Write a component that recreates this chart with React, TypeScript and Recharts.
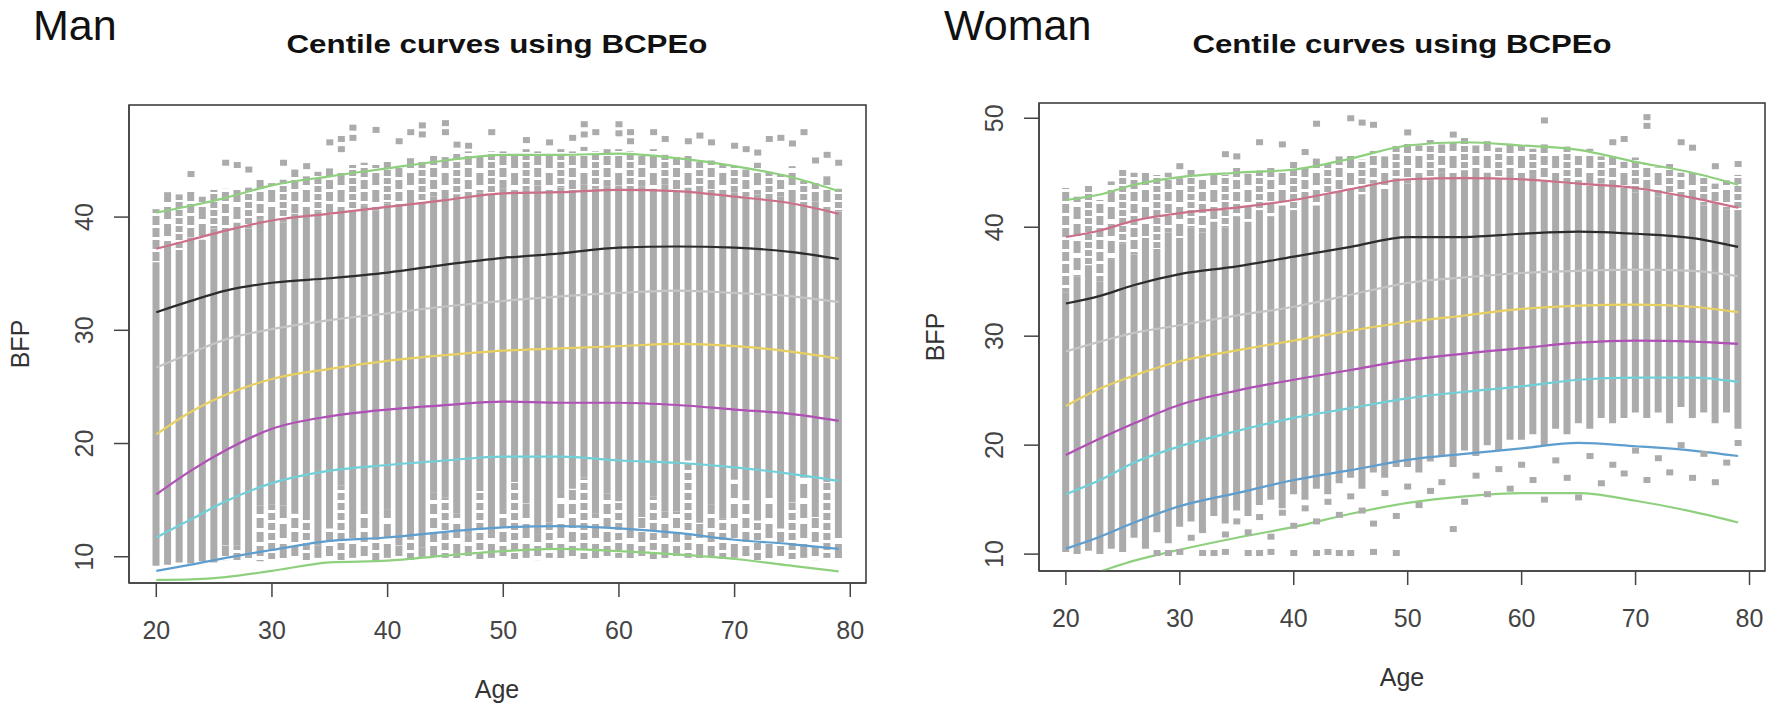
import React from 'react';
import {
    ComposedChart,
    Bar,
    Cell,
    Line,
    Scatter,
    XAxis,
    YAxis,
    ReferenceArea
} from 'recharts';

// ages observed (one grey column per year)
const AGES = [
    20, 21, 22, 23, 24, 25, 26, 27, 28, 29,
    30, 31, 32, 33, 34, 35, 36, 37, 38, 39,
    40, 41, 42, 43, 44, 45, 46, 47, 48, 49,
    50, 51, 52, 53, 54, 55, 56, 57, 58, 59,
    60, 61, 62, 63, 64, 65, 66, 67, 68, 69,
    70, 71, 72, 73, 74, 75, 76, 77, 78, 79
];

// Man: each column = sparse bottom part (lo..low2), dense part (low2..mid), sparse top part (mid..hi)
const MAN_LO = [
    9.2, 9.3, 9.5, 9.4, 9.6, 9.5, 9.7, 9.6, 9.7, 9.6,
    9.8, 9.7, 9.8, 9.7, 9.9, 9.8, 9.7, 9.9, 9.8, 9.7,
    9.9, 9.8, 9.7, 9.9, 9.8, 9.9, 9.7, 9.9, 9.8, 9.9,
    9.9, 9.8, 9.9, 9.7, 9.9, 9.8, 9.9, 9.8, 9.7, 9.8,
    9.9, 9.8, 9.9, 9.8, 9.7, 9.8, 9.9, 9.7, 9.9, 9.8,
    9.9, 9.8, 9.7, 9.8, 9.9, 9.8, 9.9, 9.7, 9.9, 9.8
];
const MAN_LOW2 = [
    9.2, 9.3, 9.5, 9.4, 9.6, 9.5, 11.0, 11.0, 10.2, 14.5,
    14.6, 14.5, 13.8, 13.6, 11.0, 12.5, 16.3, 12.0, 14.3, 11.5,
    14.2, 11.0, 11.5, 10.8, 15.7, 15.2, 13.8, 12.0, 15.8, 12.0,
    14.3, 16.6, 14.7, 12.0, 13.0, 15.8, 16.0, 17.0, 13.8, 15.6,
    14.9, 12.8, 13.5, 15.3, 14.0, 14.0, 18.5, 13.0, 14.6, 13.4,
    16.8, 15.0, 13.2, 15.8, 12.5, 14.8, 17.0, 13.5, 16.6, 12.8
];
const MAN_MID = [
    36.0, 37.5, 37.0, 38.2, 38.0, 39.0, 38.6, 39.5, 39.0, 39.8,
    40.0, 39.5, 40.3, 40.0, 40.5, 40.2, 40.8, 40.5, 41.0, 40.6,
    41.2, 41.0, 41.5, 41.2, 41.8, 41.5, 42.0, 41.8, 42.2, 42.0,
    42.5, 42.2, 42.4, 42.8, 42.3, 42.6, 42.4, 42.9, 42.5, 42.7,
    42.8, 42.4, 42.7, 42.5, 42.9, 42.3, 42.6, 42.2, 42.4, 42.0,
    42.2, 41.8, 42.0, 41.5, 41.8, 41.3, 41.0, 41.4, 40.8, 40.5
];
const MAN_HI = [
    40.7, 42.2, 42.0, 42.3, 41.8, 42.4, 42.5, 42.8, 42.6, 43.5,
    43.0, 43.3, 44.2, 43.6, 44.0, 44.3, 44.2, 44.6, 44.8, 44.6,
    45.0, 44.6, 45.2, 45.0, 45.5, 45.3, 45.6, 45.8, 45.5, 45.8,
    45.8, 45.6, 46.0, 45.8, 45.5, 46.0, 45.8, 46.2, 45.8, 46.0,
    46.0, 45.8, 45.6, 46.0, 45.5, 45.3, 45.5, 45.0, 45.0, 44.6,
    44.5, 44.2, 44.8, 44.0, 43.8, 44.5, 43.2, 43.0, 43.6, 42.5
];
// Man: isolated high observations
const MAN_OUT_AGE = [
    23, 26, 27, 28, 31, 33, 35, 36, 36, 37, 37, 39, 41, 42, 43, 43, 45, 45, 46, 47,
    49, 52, 54, 56, 57, 57, 58, 60, 60, 61, 61, 63, 64, 66, 67, 68, 70, 71, 72, 73,
    74, 75, 76, 77, 78, 79
];
const MAN_OUT_BFP = [
    43.8, 44.8, 44.6, 44.2, 44.8, 44.5, 46.6, 46.0, 46.9, 47.0, 47.9, 47.7, 46.7, 47.5, 47.3, 48.1, 47.5, 48.3, 46.4, 46.3,
    47.5, 46.8, 46.6, 47.0, 47.3, 48.2, 47.5, 47.4, 48.2, 46.7, 47.5, 47.5, 46.9, 46.7, 47.2, 46.6, 46.3, 46.0, 45.7, 46.9,
    47.0, 46.5, 47.5, 45.0, 45.5, 44.8
];

// Woman: dense part (lo..mid), sparse top part (mid..hi)
const WOMAN_LO = [
    10.2, 10.0, 10.3, 10.0, 10.5, 10.2, 11.5, 10.5, 12.0, 11.0,
    12.5, 13.0, 12.0, 13.5, 12.8, 14.0, 13.5, 14.5, 15.0, 14.2,
    15.5, 15.0, 16.0, 15.5, 16.5, 17.0, 16.0, 17.5, 17.0, 18.0,
    18.0, 17.5, 18.5, 19.0, 18.0, 19.5, 19.0, 20.0, 19.5, 20.5,
    20.5, 21.0, 20.0, 21.5, 21.0, 22.0, 21.5, 22.5, 22.0, 22.5,
    23.0, 22.5, 23.0, 22.0, 23.5, 22.5, 23.0, 22.0, 23.0, 21.5
];
const WOMAN_MID = [
    34.0, 35.5, 36.5, 35.0, 37.0, 38.5, 37.5, 39.0, 38.0, 39.5,
    39.0, 40.0, 39.5, 40.5, 40.0, 41.0, 40.5, 41.5, 41.0, 42.0,
    41.5, 42.5, 42.0, 43.0, 42.5, 43.5, 43.0, 44.0, 43.5, 44.5,
    44.0, 44.8, 44.3, 45.0, 44.5, 45.2, 44.6, 45.0, 44.4, 44.8,
    44.5, 44.8, 44.2, 44.6, 44.0, 44.3, 43.8, 44.0, 43.5, 43.6,
    43.2, 43.4, 42.8, 43.0, 42.5, 42.6, 42.0, 42.2, 41.6, 41.5
];
const WOMAN_HI = [
    43.6, 42.8, 43.8, 42.5, 44.2, 45.3, 45.0, 45.2, 44.8, 45.0,
    44.5, 45.3, 44.6, 45.0, 44.8, 45.5, 44.9, 45.2, 45.5, 45.0,
    46.0, 45.5, 46.3, 45.8, 46.5, 46.8, 46.2, 47.0, 46.5, 47.5,
    47.8, 47.5, 48.0, 47.6, 47.8, 48.2, 47.5, 47.9, 47.3, 47.8,
    47.5, 47.2, 47.6, 47.0, 47.4, 46.8, 47.2, 46.5, 46.8, 46.0,
    46.4, 45.8, 45.5, 45.8, 45.0, 45.2, 44.8, 44.0, 44.3, 44.8
];
// Woman: isolated observations above and below the dense columns
const WOMAN_OUT_AGE = [
    30, 34, 35, 37, 39, 41, 42, 45, 46, 47, 50, 54, 62, 68, 69, 71, 71, 74, 75, 77, 79,
    28, 29, 30, 32, 33, 34, 36, 37, 38, 40, 42, 43, 44, 45, 47, 49,
    31, 32, 34, 35, 36, 37, 38, 39, 40, 41, 42, 43, 44, 45, 46, 47, 48, 49,
    50, 51, 52, 53, 54, 55, 56, 57, 58, 59, 60, 61, 62, 63, 64, 65, 66, 67,
    68, 69, 70, 71, 72, 73, 74, 75, 76, 77, 78, 79
];
const WOMAN_OUT_BFP = [
    45.6, 46.7, 46.5, 47.8, 47.6, 46.9, 49.5, 50.0, 49.6, 49.4, 48.7, 48.5, 49.8, 47.8, 48.1, 50.1, 49.3, 47.8, 47.3, 45.6, 45.8,
    10.1, 10.1, 10.2, 10.1, 10.1, 10.2, 10.1, 10.1, 10.2, 10.1, 10.1, 10.2, 10.1, 10.1, 10.2, 10.1,
    11.5, 12.2, 11.8, 13.0, 12.0, 13.4, 11.6, 13.8, 12.6, 14.2, 13.0, 14.8, 13.6, 15.3, 14.0, 12.8, 15.6, 13.5,
    16.2, 14.5, 15.8, 16.6, 12.3, 14.8, 17.2, 15.5, 17.8, 16.0, 18.2, 16.8, 15.0, 18.6, 17.0, 15.2, 19.0, 16.5,
    18.2, 17.4, 19.5, 16.8, 18.8, 17.5, 20.0, 17.0, 19.2, 16.6, 18.4, 20.2
];

// centile curves, read at these ages
const CURVE_AGES = [20, 23, 26, 30, 35, 40, 45, 50, 55, 60, 65, 70, 75, 79];

const MAN_C0_4 = [7.95, 8.0, 8.2, 8.75, 9.5, 9.65, 10.1, 10.5, 10.7, 10.5, 10.2, 9.8, 9.2, 8.7];
const MAN_C2 = [8.75, 9.3, 9.9, 10.6, 11.4, 11.7, 12.2, 12.6, 12.7, 12.5, 12.1, 11.5, 11.1, 10.7];
const MAN_C10 = [11.7, 13.3, 14.9, 16.5, 17.6, 18.1, 18.5, 18.85, 18.85, 18.5, 18.3, 17.9, 17.3, 16.7];
const MAN_C25 = [15.5, 17.6, 19.4, 21.3, 22.4, 23.0, 23.4, 23.7, 23.6, 23.6, 23.4, 23.0, 22.6, 22.0];
const MAN_C50 = [20.8, 22.8, 24.3, 25.7, 26.6, 27.3, 27.8, 28.2, 28.4, 28.6, 28.8, 28.6, 28.1, 27.5];
const MAN_C75 = [26.7, 28.0, 29.2, 30.1, 30.9, 31.5, 32.1, 32.6, 33.0, 33.3, 33.5, 33.3, 33.0, 32.5];
const MAN_C90 = [31.6, 32.6, 33.5, 34.2, 34.6, 35.1, 35.8, 36.4, 36.8, 37.3, 37.4, 37.3, 36.9, 36.3];
const MAN_C98 = [37.2, 38.0, 38.8, 39.7, 40.3, 40.9, 41.5, 42.1, 42.2, 42.4, 42.3, 41.8, 41.2, 40.3];
const MAN_C99_6 = [40.4, 41.0, 41.7, 42.8, 43.6, 44.3, 45.0, 45.5, 45.5, 45.6, 45.2, 44.5, 43.5, 42.3];

const WOMAN_C0_4 = [7.4, 8.4, 9.4, 10.4, 11.5, 12.5, 13.7, 14.7, 15.3, 15.6, 15.6, 14.9, 13.9, 12.9];
const WOMAN_C2 = [10.5, 11.6, 12.9, 14.4, 15.6, 16.8, 17.7, 18.65, 19.2, 19.7, 20.2, 19.9, 19.5, 19.0];
const WOMAN_C10 = [15.5, 16.8, 18.4, 19.9, 21.3, 22.5, 23.4, 24.3, 24.9, 25.4, 26.0, 26.2, 26.2, 25.8];
const WOMAN_C25 = [19.1, 20.6, 22.0, 23.7, 25.0, 26.0, 26.9, 27.8, 28.4, 28.9, 29.4, 29.6, 29.5, 29.3];
const WOMAN_C50 = [23.6, 25.2, 26.4, 27.7, 28.7, 29.6, 30.5, 31.3, 31.9, 32.5, 32.8, 32.9, 32.7, 32.2];
const WOMAN_C75 = [28.6, 29.5, 30.3, 31.0, 31.9, 32.7, 33.8, 34.9, 35.4, 35.8, 36.0, 36.1, 36.0, 35.5];
const WOMAN_C90 = [33.0, 33.7, 34.7, 35.7, 36.4, 37.3, 38.2, 39.1, 39.1, 39.4, 39.6, 39.4, 39.0, 38.2];
const WOMAN_C98 = [39.1, 39.7, 40.6, 41.3, 41.8, 42.5, 43.5, 44.4, 44.5, 44.4, 44.0, 43.6, 42.7, 41.8];
const WOMAN_C99_6 = [42.5, 43.0, 43.9, 44.6, 45.0, 45.3, 46.3, 47.5, 47.8, 47.5, 47.1, 46.0, 45.0, 43.9];

const CENTILE_COLORS = ['#8fd07f', '#5d9ecf', '#6fd0d8', '#b04fb5', '#e8d060', '#c4c4c4', '#2b2b2b', '#cc6f88', '#8fd07f'];
const X_TICKS = [20, 30, 40, 50, 60, 70, 80];
const MAN_Y_TICKS = [10, 20, 30, 40];
const WOMAN_Y_TICKS = [10, 20, 30, 40, 50];

const X_DOMAIN = [17.64, 81.36];
const FONT = '"Liberation Sans", Arial, sans-serif';
const POINT_GREY = '#ababab';

// dash textures (period, grey start, grey length) so sparse stretches look broken up
const DASH_UP = [[12, 0, 9], [17, 3, 12], [8, 2, 6]];
const DASH_LOW = [[14, 0, 10], [20, 4, 14], [10, 3, 7]];

interface PanelProps {
    left: number;
    width: number;
    margin: { top: number; right: number; bottom: number; left: number };
    yDomain: number[];
    yTicks: number[];
    lo: number[];
    low2: number[];
    mid: number[];
    hi: number[];
    outAge: number[];
    outBfp: number[];
    curves: number[][];
}

const AXIS_W = 60;
const AXIS_H = 60;
const BAR_W = 7;

function Square(props: any) {
    const { cx, cy } = props;
    return <rect x={cx - 3.5} y={cy - 3} width={7} height={6} fill={POINT_GREY} />;
}

function Panel({ left, width, margin, yDomain, yTicks, lo, low2, mid, hi, outAge, outBfp, curves }: PanelProps) {
    const rows = AGES.map((age, i) => ({ age, lo: lo[i], low2: low2[i], mid: mid[i], hi: hi[i] }));
    const points = outAge.map((age, i) => ({ age, v: outBfp[i] }));
    const curveRows = CURVE_AGES.map((age, i) => {
        const r: any = { age };
        curves.forEach((c, k) => { r['c' + k] = c[i]; });
        return r;
    });
    const plotLeft = margin.left + AXIS_W;
    const plotBottom = 716 - margin.bottom - AXIS_H;

    const yTick = (p: any) => {
        const bx = plotLeft - 36;
        return (
            <text x={bx} y={p.y} transform={`rotate(-90 ${bx} ${p.y})`} textAnchor="middle"
                fontSize={25} fontFamily={FONT} fill="#444">{p.payload.value}</text>
        );
    };
    const xTick = (p: any) => (
        <text x={p.x} y={plotBottom + 56} textAnchor="middle" fontSize={25} fontFamily={FONT} fill="#444">
            {p.payload.value}
        </text>
    );

    return (
        <div style={{ position: 'absolute', left, top: 0 }}>
            <ComposedChart width={width} height={716} data={rows} margin={margin} barGap={-BAR_W}>
                <XAxis dataKey="age" type="number" domain={X_DOMAIN} ticks={X_TICKS} allowDataOverflow
                    height={AXIS_H} tickSize={14} tick={xTick} interval={0}
                    axisLine={{ stroke: '#444', strokeWidth: 1.5 }} tickLine={{ stroke: '#444', strokeWidth: 1.5 }} />
                <YAxis type="number" domain={yDomain} ticks={yTicks} allowDataOverflow width={AXIS_W}
                    tickSize={15} tick={yTick} interval={0}
                    axisLine={{ stroke: '#444', strokeWidth: 1.5 }} tickLine={{ stroke: '#444', strokeWidth: 1.5 }} />
                <Bar dataKey={(d: any) => [d.lo, d.low2]} barSize={BAR_W} isAnimationActive={false}>
                    {rows.map((_, i) => <Cell key={i} fill={`url(#dashLow${(i * 2) % 3})`} />)}
                </Bar>
                <Bar dataKey={(d: any) => [d.low2, d.mid]} fill={POINT_GREY} barSize={BAR_W} isAnimationActive={false} />
                <Bar dataKey={(d: any) => [d.mid, d.hi]} barSize={BAR_W} isAnimationActive={false}>
                    {rows.map((_, i) => <Cell key={i} fill={`url(#dashUp${i % 3})`} />)}
                </Bar>
                <Scatter data={points} dataKey="v" shape={Square} isAnimationActive={false} />
                {curves.map((_, k) => (
                    <Line key={k} data={curveRows} dataKey={'c' + k} type="monotone" stroke={CENTILE_COLORS[k]}
                        strokeWidth={2.2} dot={false} isAnimationActive={false} />
                ))}
                <ReferenceArea x1={X_DOMAIN[0]} x2={X_DOMAIN[1]} y1={yDomain[0]} y2={yDomain[1]}
                    fill="none" fillOpacity={0} stroke="#333" strokeWidth={1.5} ifOverflow="visible" />
            </ComposedChart>
        </div>
    );
}

export default function App() {
    const manCurves = [MAN_C0_4, MAN_C2, MAN_C10, MAN_C25, MAN_C50, MAN_C75, MAN_C90, MAN_C98, MAN_C99_6];
    const womanCurves = [WOMAN_C0_4, WOMAN_C2, WOMAN_C10, WOMAN_C25, WOMAN_C50, WOMAN_C75, WOMAN_C90, WOMAN_C98, WOMAN_C99_6];
    return (
        <div style={{ position: 'absolute', left: 0, top: 0, width: 1772, height: 716, background: '#fff', overflow: 'hidden' }}>
            <svg width={0} height={0} style={{ position: 'absolute' }}>
                <defs>
                    {DASH_UP.map(([h, y0, len], i) => (
                        <pattern key={'u' + i} id={'dashUp' + i} width={1} height={h} patternUnits="userSpaceOnUse">
                            <rect y={y0} width={1} height={len} fill={POINT_GREY} />
                        </pattern>
                    ))}
                    {DASH_LOW.map(([h, y0, len], i) => (
                        <pattern key={'l' + i} id={'dashLow' + i} width={1} height={h} patternUnits="userSpaceOnUse">
                            <rect y={y0} width={1} height={len} fill={POINT_GREY} />
                        </pattern>
                    ))}
                </defs>
            </svg>
            <Panel left={0} width={900} margin={{ top: 105, right: 34, bottom: 73, left: 69 }}
                yDomain={[7.68, 49.9]} yTicks={MAN_Y_TICKS} lo={MAN_LO} low2={MAN_LOW2} mid={MAN_MID} hi={MAN_HI}
                outAge={MAN_OUT_AGE} outBfp={MAN_OUT_BFP} curves={manCurves} />
            <Panel left={900} width={872} margin={{ top: 103, right: 7, bottom: 85, left: 79 }}
                yDomain={[8.45, 51.4]} yTicks={WOMAN_Y_TICKS} lo={WOMAN_LO} low2={WOMAN_LO} mid={WOMAN_MID} hi={WOMAN_HI}
                outAge={WOMAN_OUT_AGE} outBfp={WOMAN_OUT_BFP} curves={womanCurves} />
            <svg width={1772} height={716} style={{ position: 'absolute', left: 0, top: 0, pointerEvents: 'none' }}
                fontFamily={FONT}>
                <text x={33} y={40} fontSize={43} fill="#111">Man</text>
                <text x={944} y={40} fontSize={43} fill="#111">Woman</text>
                <text x={497} y={53} textAnchor="middle" fontSize={25} fontWeight="bold" fill="#111"
                    textLength={421} lengthAdjust="spacingAndGlyphs">Centile curves using BCPEo</text>
                <text x={1402} y={53} textAnchor="middle" fontSize={25} fontWeight="bold" fill="#111"
                    textLength={419} lengthAdjust="spacingAndGlyphs">Centile curves using BCPEo</text>
                <text x={497} y={698} textAnchor="middle" fontSize={25} fill="#333">Age</text>
                <text x={1402} y={686} textAnchor="middle" fontSize={25} fill="#333">Age</text>
                <text x={29} y={344} transform="rotate(-90 29 344)" textAnchor="middle" fontSize={25} fill="#333">BFP</text>
                <text x={944} y={337} transform="rotate(-90 944 337)" textAnchor="middle" fontSize={25} fill="#333">BFP</text>
            </svg>
        </div>
    );
}
